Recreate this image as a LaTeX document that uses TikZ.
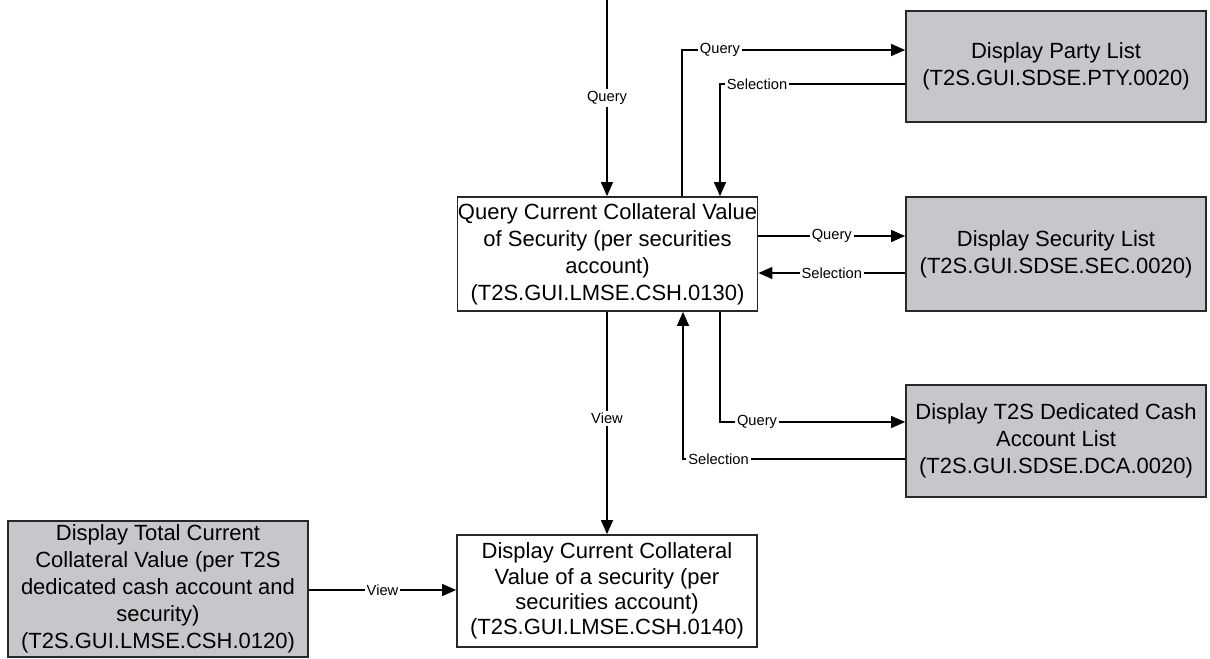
\documentclass[tikz,border=0pt]{standalone}
\usepackage{fontspec}
\setmainfont{Liberation Sans}
\usepackage{xcolor}
\usetikzlibrary{positioning, arrows.meta}
\definecolor{G1}{RGB}{200,198,203}
\definecolor{G2}{RGB}{40,40,40}

\begin{document}
\begin{tikzpicture}[
	x=0.75pt, y=-0.75pt,
	wvertex/.style = {draw=G2, rectangle, align=center, line width=1.3pt, fill=white, inner sep=0pt,
		minimum width=225pt, font=\fontsize{16.5}{20.25}\selectfont},
	gvertex/.style = {wvertex, fill=G1},
	lbl/.style = {fill=white, inner sep=1.5pt, font=\fontsize{11}{12}\selectfont},
	flow/.style = {draw, line width=0.9pt, -{Triangle[length=10.5pt, width=9pt]}}
]
  \useasboundingbox (0,0) rectangle (1210,658);
  % Define vertices
  \node[wvertex, minimum height=85.5pt] at (607.5, 254) (qry) {Query Current Collateral Value\\ of Security (per securities\\ account)\\ (T2S.GUI.LMSE.CSH.0130)};
  \node[gvertex, minimum height=83.25pt] at (1056, 66.5) (party) {Display Party List\\ (T2S.GUI.SDSE.PTY.0020)};
  \node[gvertex, minimum height=85.5pt] at (1056, 254) (sec) {Display Security List\\ (T2S.GUI.SDSE.SEC.0020)};
  \node[gvertex, minimum height=84pt] at (1056, 441) (dca) {Display T2S Dedicated Cash\\ Account List\\ (T2S.GUI.SDSE.DCA.0020)};
  \node[wvertex, minimum height=84pt, font=\fontsize{16.5}{19}\selectfont] at (607, 591) (disp) {Display Current Collateral\\ Value of a security (per\\ securities account)\\ (T2S.GUI.LMSE.CSH.0140)};
  \node[gvertex, minimum height=102pt] at (158, 589) (total) {Display Total Current\\ Collateral Value (per T2S\\ dedicated cash account and\\ security)\\ (T2S.GUI.LMSE.CSH.0120)};
  \coordinate (topin) at (607, 0);

  \draw[flow] (topin) -- node[lbl]{Query} (qry.north -| topin);
  \draw[flow] (qry.north -| 682,0) |- node[lbl, pos=0.585]{Query} (party.west |- 0,50);
  \draw[flow] (party.west |- 0,84) -| node[lbl, pos=0.4]{Selection} (qry.north -| 720,0);
  \draw[flow] (qry.east |- 0,236) -- node[lbl]{Query} (sec.west |- 0,236);
  \draw[flow] (sec.west |- 0,273) -- node[lbl]{Selection} (qry.east |- 0,273);
  \draw[flow] (qry.south -| 720,0) |- node[lbl, pos=0.6]{Query} (dca.west |- 0,422);
  \draw[flow] (dca.west |- 0,459) -| node[lbl, pos=0.42]{Selection} (qry.south -| 683,0);
  \draw[flow] (qry.south -| 607,0) -- node[lbl, pos=0.48]{View} (disp.north -| 607,0);
  \draw[flow] (total.east |- 0,590) -- node[lbl]{View} (disp.west |- 0,590);
\end{tikzpicture}
\end{document}
